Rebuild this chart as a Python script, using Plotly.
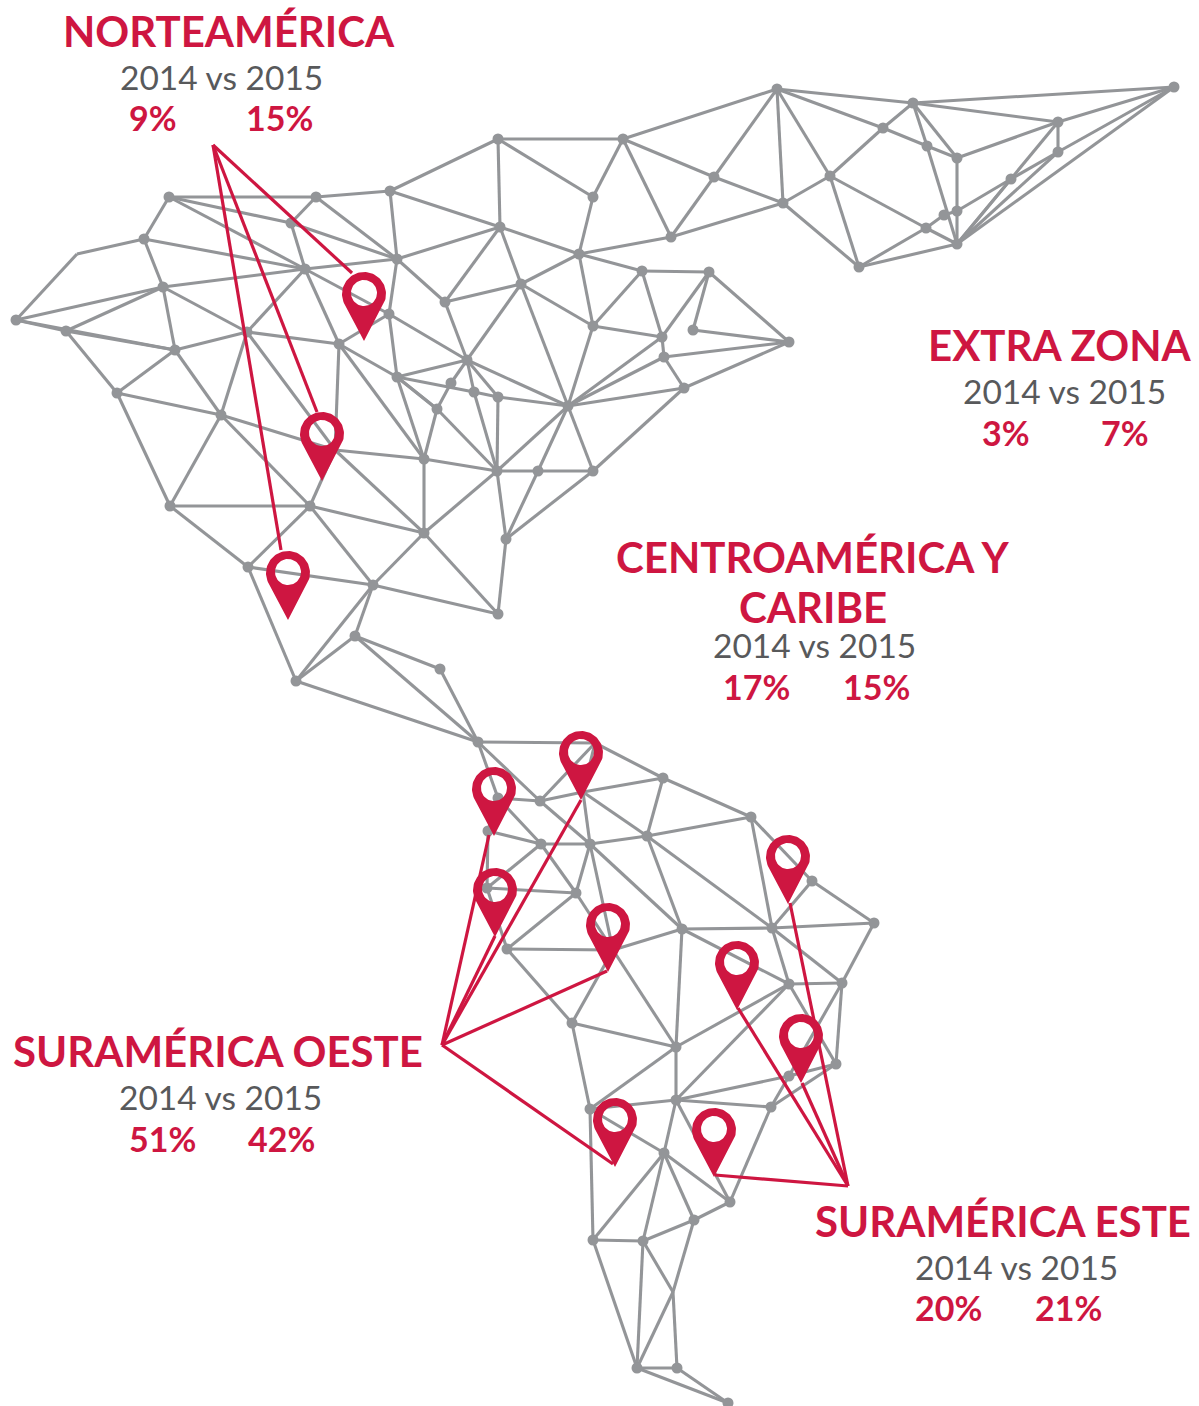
import math
import plotly.graph_objects as go

GREY = "#939598"
RED = "#CE1641"
TXT = "#58595B"

# network nodes: name, x, y
node_names = ["a1","a2","a3","a4","a5","a6","a7","a8","a9","a10","a11","a12","a13","a14","a15","a16","a17","a18","h",
 "b2","b3","b4","b5","b6","b7","b8","b9","b10","b11","b12","b13","b14","b15","b17","b18","b19","b20","b21",
 "c1","c2","c3","c4","c5","c6","c7","c8","c9","c10","c11","c12","c13","c14","c15","c16","c17","c18","c19",
 "d1","d2","d3","d4","d5","d6","d7","d8","d9","d10","d12","d13","d14","d15","d16",
 "e1","e2","e3","e4","e5","e6","e7","e8","e9","e10","e11","e12","e13","e14","e15","e16","e17","e18","e19","e20","e21","e22","e23",
 "f3","f4","f5","f6","f7","f8","f9","f10","f11","f12","f13","f14","f15","f16"]
node_x = [169,316,390,291,144,77,305,397,163,16,66,175,247,339,389,397,117,221,335,
 170,310,424,424,497,538,593,506,498,373,248,355,296,440,451,474,498,437,568,
 498,623,593,714,783,671,500,579,642,709,445,521,593,662,693,789,664,684,467,
 777,913,883,927,957,1058,1058,1174,1011,830,957,944,926,957,859,
 478,595,663,751,540,498,488,583,541,590,647,487,576,812,874,772,682,507,613,572,676,789,842,
 676,590,771,789,836,664,730,694,593,643,673,637,677,728]
node_y = [197,197,191,223,239,254,269,259,287,320,331,350,332,344,314,377,393,415,450,
 506,506,533,459,471,471,471,539,614,585,567,636,681,669,383,392,397,409,406,
 139,139,197,177,203,237,227,254,271,272,302,284,326,337,330,342,357,388,360,
 89,103,128,146,158,122,152,87,179,176,211,215,228,244,267,
 742,743,778,817,801,798,831,792,844,844,836,888,893,881,923,928,929,949,950,1023,1047,984,983,
 1100,1109,1107,1076,1064,1153,1202,1220,1240,1241,1292,1368,1368,1403]
nodes_without_dot = ["a6","f13","h","e19","e8","e2"]

edges = """a1-a2 a2-a3 a1-a5 a5-a6 a6-a10 a5-a7 a5-a9 a1-a4 a4-a8 a1-a7 a2-a4 a4-a7 a2-a8 a3-a8 a9-a7 a7-a8
a10-a9 a11-a9 a10-a11 a10-a12 a11-a12 a9-a12 a9-a13 a12-a13 a13-a7 a7-a14 a7-a15 a13-a14 a14-a15 a8-a15 a15-a16 a14-a16
a12-a17 a11-a17 a12-a18 a17-a18 a13-a18 a13-h h-a18 h-a14 h-b3 h-b5 h-b4
a18-b2 a18-b3 a17-b2 b2-b3 b2-b12 b12-b3 b3-b4 b3-b11 b4-b11 b4-b5 b4-b6 b4-b10 b5-b6 b6-b7 b7-b8 b6-b9 b7-b9 b8-b9 b9-b10
b12-b11 b11-b10 b12-b14 b11-b14 b11-b13 b13-b14 b13-b15 b13-e1 b15-e1 b14-e1
a16-b5 a14-b5 b20-b5 a16-b20 a16-b18 b18-b19 b19-b21 a16-c19 b17-c19 b17-b20 b18-c19 b18-b6 c19-b19 c19-b21 b19-b6 b20-b6 b21-b6 b21-b7 b21-b8
a3-c1 c1-c2 c1-c7 c1-c3 c2-c3 c2-c4 c2-c6 c2-d1 c3-c8 c4-c5 c4-c6 c6-c5 c8-c6 c7-c8 a3-c7 a8-c7 a8-c11 c7-c11 c7-c12 c11-c12 c12-c8
c8-c9 c8-c13 c12-c13 c9-c10 c9-c13 c9-c14 c13-c14 c10-c14 c10-c15 c10-c16 c15-c16 c14-c17 c17-c16 c17-c18 c18-c16 c11-c19 c12-c19 c12-b21 c13-b21
a15-c19 b21-c14 b21-c17 b21-c18 c18-b8 a16-b20 c4-d1
d1-d2 d1-d3 d1-d10 d1-c5 d3-d2 d3-d10 d3-d4 d4-d5 d2-d4 d2-d5 d4-d15 d2-d8 d2-d6 d6-d8 d5-d6 d6-d7 d5-d12 d12-d15 d10-c5 d10-d14 d10-d16
d14-d15 d14-d16 d14-d13 d13-d12 d12-d9 d9-d7 d7-d8 d15-d16 d15-d9 d15-d6 d15-d8 d15-d7 c5-d16
e1-e2 e1-e6 e1-e5 e5-e10 e5-e6 e5-e2 e5-e8 e8-e3 e2-e3 e2-e8 e3-e4 e3-e11 e8-e10 e8-e11 e10-e11 e11-e4 e6-e9 e7-e9 e9-e10 e9-e12 e9-e13 e7-e12 e12-e13 e13-e10
e13-e18 e13-e19 e10-e19 e10-e17 e18-e19 e12-e18 e18-e20 e19-e17 e19-e21 e19-e20 e20-e21 e17-e11 e11-e16 e4-e16 e4-e14 e16-e14 e14-e15 e16-e15 e17-e16 e17-e21
e17-e22 e16-e22 e16-e23 e22-e23 e15-e23 e23-f7 e23-f6 e22-f7 e22-e21 e22-f3 e6-e7
e21-f3 e20-f4 e21-f4 f3-f4 f3-f6 f3-f5 f3-f8 f4-f8 f4-f11 f5-f6 f5-f7 f6-f7 f5-f9 f3-f9 f8-f9 f8-f10 f8-f11 f8-f12 f9-f10 f10-f12 f11-f12 f10-f13 f12-f13 f13-f14 f13-f15 f12-f14 f11-f14 f14-f15 f15-f16 f14-f16""".split()

# map pins: hole centre and tip
pin_x = [364,322,288,581,494,495,608,788,737,801,615,714]
pin_y = [293,433,572,752,788,889,924,856,962,1035,1119,1129]
pin_tip_offset = 48
pin_outer = 22
pin_hole = 13

# red connector lines: hub -> end
north_hub = (213,145)
north_ends = [(352,273),(317,412),(281,550)]
west_hub = (442,1045)
west_ends = [(489,835),(581,800),(495,936),(607,971),(613,1164)]
east_hub = (848,1186)
east_ends = [(715,1175),(802,1083),(738,1008),(790,903)]

# text labels
titles = ["NORTEAMÉRICA","EXTRA ZONA","CENTROAMÉRICA Y","CARIBE","SURAMÉRICA OESTE","SURAMÉRICA ESTE"]
title_x = [229,1060,813,813,218,1003]
title_y = [31,345,557,607,1051,1221]
comparison = "2014 vs 2015"
comp_x = [221,1064,814,220,1016]
comp_y = [77,391,645,1097,1267]
pcts = ["9%","15%","3%","7%","17%","15%","51%","42%","20%","21%"]
pct_x = [153,279,1006,1125,756,876,162,281,948,1068]
pct_y = [117,117,432,432,686,686,1138,1138,1307,1307]

pos = {n: (x, y) for n, x, y in zip(node_names, node_x, node_y)}

ex, ey = [], []
for e in edges:
    p, q = e.split("-")
    ex += [pos[p][0], pos[q][0], None]
    ey += [pos[p][1], pos[q][1], None]

fig = go.Figure()
fig.add_trace(go.Scatter(x=ex, y=ey, mode="lines", line=dict(color=GREY, width=3.1), hoverinfo="skip"))
dots = [n for n in node_names if n not in nodes_without_dot]
fig.add_trace(go.Scatter(x=[pos[n][0] for n in dots], y=[pos[n][1] for n in dots], mode="markers",
                         marker=dict(color=GREY, size=11), hoverinfo="skip"))

rx, ry = [], []
for hub, ends in ((north_hub, north_ends), (west_hub, west_ends), (east_hub, east_ends)):
    for end in ends:
        rx += [hub[0], end[0], None]
        ry += [hub[1], end[1], None]
fig.add_trace(go.Scatter(x=rx, y=ry, mode="lines", line=dict(color=RED, width=3.2), hoverinfo="skip"))

def pin_outline(cx, cy):
    """Pin silhouette with a see-through hole, joined by a zero-width slit."""
    xs, ys = [], []
    cy0 = cy + 1
    tang = math.acos(pin_outer / (pin_tip_offset - 1))
    steps = 60
    xs.append(cx); ys.append(cy + pin_tip_offset)
    for i in range(steps + 1):
        a = tang + (2 * math.pi - 2 * tang) * i / steps
        xs.append(cx + pin_outer * math.sin(a))
        ys.append(cy0 + pin_outer * math.cos(a))
    xs.append(cx); ys.append(cy + pin_tip_offset)
    for i in range(steps + 1):
        a = -2 * math.pi * i / steps
        xs.append(cx + pin_hole * math.sin(a))
        ys.append(cy + pin_hole * math.cos(a))
    xs.append(cx); ys.append(cy + pin_tip_offset)
    return xs, ys

for cx, cy in zip(pin_x, pin_y):
    xs, ys = pin_outline(cx, cy)
    fig.add_trace(go.Scatter(x=xs, y=ys, mode="lines", fill="toself", fillcolor=RED,
                             line=dict(color=RED, width=0), hoverinfo="skip"))

def label(text, x, y, size, color, bold=False):
    fig.add_annotation(x=x, y=y, xref="x", yref="y", text=f"<b>{text}</b>" if bold else text, showarrow=False,
                       xanchor="center", yanchor="middle",
                       font=dict(family="Lato", size=size, color=color))

for t, x, y in zip(titles, title_x, title_y):
    label(t, x, y, 42, RED, True)
for x, y in zip(comp_x, comp_y):
    label(comparison, x, y, 33.5, TXT)
for t, x, y in zip(pcts, pct_x, pct_y):
    label(t, x, y, 34, RED, True)

fig.update_layout(width=1199, height=1406, margin=dict(l=0, r=0, t=0, b=0), showlegend=False,
                  paper_bgcolor="white", plot_bgcolor="white",
                  xaxis=dict(range=[0, 1199], visible=False, fixedrange=True),
                  yaxis=dict(range=[1406, 0], visible=False, fixedrange=True))
fig.write_html("out.html", config={"displayModeBar": False},
               post_script="document.body.style.margin='0';document.documentElement.style.overflow='hidden';")
